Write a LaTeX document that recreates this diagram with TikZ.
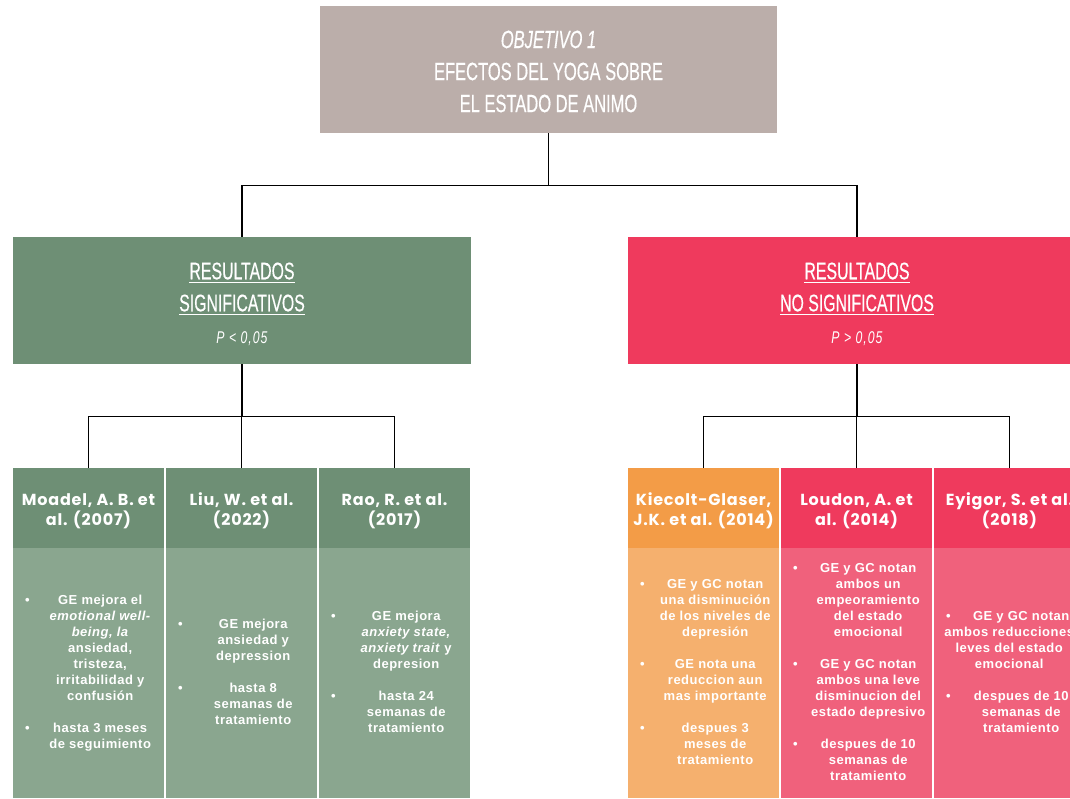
\documentclass[tikz,border=0pt]{standalone}
\usepackage{fontspec}
\usepackage{array}
\setmainfont{Liberation Sans}
\newfontfamily\titulo[FakeStretch=0.66,FakeBold=0.4]{Liberation Sans}
\newfontfamily\pvalor[FakeStretch=0.72,LetterSpace=6]{Liberation Sans}
\newfontfamily\autor[LetterSpace=5]{Poppins}
\newfontfamily\cuerpo[LetterSpace=4]{Liberation Sans}

\definecolor{gris}{RGB}{187,174,170}
\definecolor{verdeosc}{RGB}{110,143,117}
\definecolor{verdeclaro}{RGB}{138,166,143}
\definecolor{rojo}{RGB}{239,58,93}
\definecolor{rojoclaro}{RGB}{240,97,124}
\definecolor{naranja}{RGB}{243,156,71}
\definecolor{naranjaclaro}{RGB}{245,176,110}

\begin{document}
\begin{tikzpicture}[x=1pt,y=-1pt,
  caja/.style={rectangle,inner sep=0pt,text=white,align=center},
  linea/.style={line width=1.2pt,black}]

\useasboundingbox (0,0) rectangle (1070,798);
\clip (0,0) rectangle (1070,798);

\def\subrayado#1{\setbox0\hbox{#1}\rlap{\copy0}\rule[-4pt]{\wd0}{1.6pt}}

% name, left x, header colour, body colour, header text, body rows
\def\columna#1#2#3#4#5#6{
	\node[caja,fill=#3,minimum width=151pt,minimum height=80pt] (k#1) at ({#2+75.5},508) {};
	\node[caja,font={\autor\bfseries\fontsize{16}{20}\selectfont}] (n#1) at ({#2+75.5},511) {#5};
	\node[caja,fill=#4,minimum width=151pt,minimum height=250pt] (c#1) at ({#2+75.5},673) {};
	\node[caja,anchor=west,font={\cuerpo\bfseries\fontsize{13}{16}\selectfont}] (t#1) at ({#2+12},673)
		{\begin{tabular}{@{}w{l}{10pt}@{}w{c}{130pt}@{}}#6\end{tabular}};
}

\node[caja,fill=gris,minimum width=457pt,minimum height=127pt] (obj) at (548.5,69.5) {};
\node[caja,font={\titulo\fontsize{25}{32}\selectfont}] (objtxt) at (548.5,71.5)
	{\textit{OBJETIVO 1}\\EFECTOS DEL YOGA SOBRE\\EL ESTADO DE ANIMO};

\node[caja,fill=verdeosc,minimum width=458pt,minimum height=127pt] (sig) at (242,300.5) {};
\node[caja,font={\titulo\fontsize{24}{32}\selectfont}] (sigtxt) at (242,304)
	{\subrayado{RESULTADOS}\\\subrayado{SIGNIFICATIVOS}\\{\pvalor\itshape\fontsize{17}{20}\selectfont P < 0,05}};

\node[caja,fill=rojo,minimum width=458pt,minimum height=127pt] (nosig) at (857,300.5) {};
\node[caja,font={\titulo\fontsize{24}{32}\selectfont}] (nosigtxt) at (857,304)
	{\subrayado{RESULTADOS}\\\subrayado{NO SIGNIFICATIVOS}\\{\pvalor\itshape\fontsize{17}{20}\selectfont P > 0,05}};

\columna{moadel}{13}{verdeosc}{verdeclaro}{Moadel, A. B. et\\al. (2007)}{%
	\textbullet & GE mejora el\\ & \textit{emotional well-}\\ & \textit{being, la}\\
	& ansiedad,\\ & tristeza,\\ & irritabilidad y\\ & confusión\\[16pt]
	\textbullet & hasta 3 meses\\ & de seguimiento}
\columna{liu}{166}{verdeosc}{verdeclaro}{Liu, W. et al.\\(2022)}{%
	\textbullet & GE mejora\\ & ansiedad y\\ & depression\\[16pt]
	\textbullet & hasta 8\\ & semanas de\\ & tratamiento}
\columna{rao}{319}{verdeosc}{verdeclaro}{Rao, R. et al.\\(2017)}{%
	\textbullet & GE mejora\\ & \textit{anxiety state,}\\ & \textit{anxiety trait} y\\ & depresion\\[16pt]
	\textbullet & hasta 24\\ & semanas de\\ & tratamiento}

\columna{kiecolt}{628}{naranja}{naranjaclaro}{Kiecolt-Glaser,\\J.K. et al. (2014)}{%
	\textbullet & GE y GC notan\\ & una disminución\\ & de los niveles de\\ & depresión\\[16pt]
	\textbullet & GE nota una\\ & reduccion aun\\ & mas importante\\[16pt]
	\textbullet & despues 3\\ & meses de\\ & tratamiento}
\columna{loudon}{781}{rojo}{rojoclaro}{Loudon, A. et\\al. (2014)}{%
	\textbullet & GE y GC notan\\ & ambos un\\ & empeoramiento\\ & del estado\\ & emocional\\[16pt]
	\textbullet & GE y GC notan\\ & ambos una leve\\ & disminucion del\\ & estado depresivo\\[16pt]
	\textbullet & despues de 10\\ & semanas de\\ & tratamiento}
\columna{eyigor}{934}{rojo}{rojoclaro}{Eyigor, S. et al.\\(2018)}{%
	\textbullet & GE y GC notan\\ & \hspace*{-24pt}ambos reducciones\\ & \hspace*{-24pt}leves del estado\\
	& \hspace*{-24pt}emocional\\[16pt]
	\textbullet & despues de 10\\ & semanas de\\ & tratamiento}

% connectors
\draw[linea] (obj.south) -- ++(0,52) -| (sig.north);
\draw[linea] (obj.south) ++(0,52) -| (nosig.north);

\draw[linea] (sig.south) -- ++(0,52) -| (kmoadel.north);
\draw[linea] (sig.south) ++(0,52) -| (kliu.north);
\draw[linea] (sig.south) ++(0,52) -| (krao.north);

\draw[linea] (nosig.south) -- ++(0,52) -| (kkiecolt.north);
\draw[linea] (nosig.south) ++(0,52) -| (kloudon.north);
\draw[linea] (nosig.south) ++(0,52) -| (keyigor.north);

\end{tikzpicture}
\end{document}
